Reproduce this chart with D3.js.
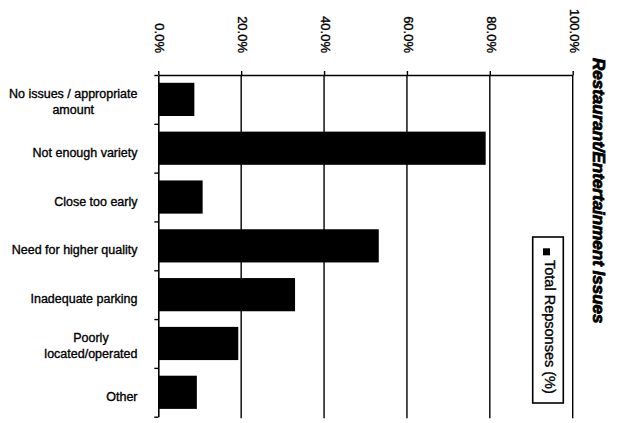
<!DOCTYPE html>
<html>
<head>
<meta charset="utf-8">
<script src="https://cdn.jsdelivr.net/npm/d3@7/dist/d3.min.js"></script>
<style>
  html, body { margin: 0; padding: 0; background: #fff; }
  svg { display: block; }
  text { font-family: "Liberation Sans", Arial, sans-serif; fill: #000; stroke: #000; stroke-width: 0.35px; }
</style>
</head>
<body>
<svg id="chart" width="621" height="423"></svg>
<script>
// Restaurant / entertainment issues, share of total responses (%)
const categories = [
  "No issues / appropriate amount",
  "Not enough variety",
  "Close too early",
  "Need for higher quality",
  "Inadequate parking",
  "Poorly located/operated",
  "Other"
];
// wrapped text for each category label
const categoryLines = [
  ["No issues / appropriate", "amount"],
  ["Not enough variety"],
  ["Close too early"],
  ["Need for higher quality"],
  ["Inadequate parking"],
  ["Poorly", "located/operated"],
  ["Other"]
];
const totalResponses = [8.7, 79.0, 10.7, 53.2, 33.0, 19.3, 9.3];
const tickValues = [0, 20, 40, 60, 80, 100];
const tickLabels = ["0.0%", "20.0%", "40.0%", "60.0%", "80.0%", "100.0%"];
const chartTitle = "Restaurant/Entertainment Issues";
const legendLabel = "Total Repsonses (%)";

const svg = d3.select("#chart");

const plot = { left: 158.3, right: 572.7, top: 75, bottom: 416.7 };

const x = d3.scaleLinear().domain([0, 100]).range([plot.left, plot.right]);
const y = d3.scaleBand()
  .domain(categories)
  .range([plot.top, plot.bottom])
  .paddingInner(0.32)
  .paddingOuter(0.16);
// category boundaries for the left axis ticks
const yEdge = d3.scaleLinear().domain([0, categories.length]).range([plot.top, plot.bottom]);

// vertical gridlines
svg.append("g")
  .selectAll("line")
  .data(tickValues.slice(1))
  .join("line")
  .attr("x1", d => x(d)).attr("x2", d => x(d))
  .attr("y1", plot.top).attr("y2", plot.bottom + 1.5)
  .attr("stroke", "#000").attr("stroke-width", 1.4);

// bars
svg.append("g")
  .selectAll("rect")
  .data(categories)
  .join("rect")
  .attr("x", x(0))
  .attr("y", d => y(d))
  .attr("width", (d, i) => x(totalResponses[i]) - x(0))
  .attr("height", y.bandwidth())
  .attr("fill", "#000");

// top value axis
const xAxis = svg.append("g")
  .attr("transform", `translate(0,${plot.top})`)
  .call(d3.axisTop(x).tickValues(tickValues).tickSize(4).tickSizeOuter(0)
    .tickFormat((d, i) => tickLabels[i]));
xAxis.select(".domain").attr("stroke", "#000").attr("stroke-width", 1.6);
xAxis.selectAll(".tick line").attr("stroke", "#000").attr("stroke-width", 1.4);
xAxis.selectAll(".tick text")
  .attr("transform", "translate(-3.5,-22) rotate(90)")
  .attr("x", 0).attr("y", 0).attr("dy", 0)
  .attr("text-anchor", "end")
  .attr("fill", "#000")
  .style("font-size", "13px");

// left category axis (ticks at category boundaries)
const yAxis = svg.append("g")
  .attr("transform", `translate(${plot.left},0)`)
  .call(d3.axisLeft(yEdge).ticks(categories.length).tickSize(4).tickSizeOuter(0).tickFormat(""));
yAxis.select(".domain").attr("stroke", "#000").attr("stroke-width", 1.6);
yAxis.selectAll(".tick line").attr("stroke", "#000").attr("stroke-width", 1.4);

// category labels, centred lines in a right-aligned block
const labelRight = 137.5;
const lineGap = 16;
categories.forEach((c, i) => {
  const lines = categoryLines[i];
  const cy = y(c) + y.bandwidth() / 2;
  const g = svg.append("g");
  const texts = lines.map((t, j) => g.append("text")
    .attr("y", lines.length === 1 ? cy + 8.5 : cy - 1 + j * lineGap)
    .attr("text-anchor", "middle")
    .style("font-size", "12.5px")
    .text(t));
  const w = d3.max(texts, t => t.node().getComputedTextLength());
  texts.forEach(t => t.attr("x", labelRight - w / 2));
});

// title on the right
svg.append("text")
  .attr("transform", "translate(593,58) rotate(90)")
  .attr("text-anchor", "start")
  .style("font-size", "17px")
  .style("font-weight", "bold")
  .style("font-style", "italic")
  .style("stroke-width", 0.8)
  .text(chartTitle);

// legend
const legend = svg.append("g");
legend.append("rect")
  .attr("x", 532.7).attr("y", 237)
  .attr("width", 30.6).attr("height", 166)
  .attr("fill", "#fff").attr("stroke", "#000").attr("stroke-width", 1.6);
legend.append("rect")
  .attr("x", 543).attr("y", 248.3)
  .attr("width", 7).attr("height", 7)
  .attr("fill", "#000");
legend.append("text")
  .attr("transform", "translate(544.5,260) rotate(90)")
  .attr("text-anchor", "start")
  .style("font-size", "14.5px")
  .text(legendLabel);
</script>
</body>
</html>
